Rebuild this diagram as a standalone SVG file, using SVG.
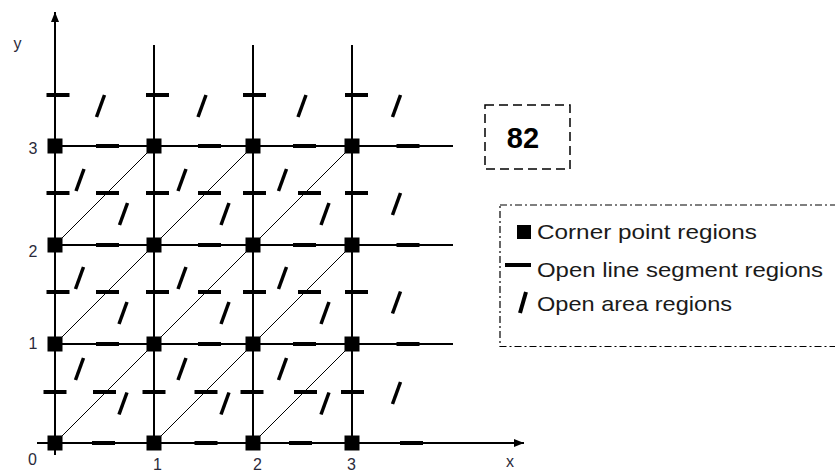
<svg xmlns="http://www.w3.org/2000/svg" xmlns:xlink="http://www.w3.org/1999/xlink" width="835" height="473" viewBox="0 0 835 473">
<style>
.grid{stroke:#000;stroke-width:2;fill:none}
.diag{stroke:#000;stroke-width:1;fill:none}
.lbl{font-family:"Liberation Sans",Arial,sans-serif;font-size:16px;fill:#2a2a3a;text-anchor:middle}
.leg{font-family:"Liberation Sans",Arial,sans-serif;font-size:21px;fill:#1a1a1a}
</style>
<defs>
<marker id="arr" viewBox="0 0 10 8" refX="10" refY="4" markerWidth="10" markerHeight="8" orient="auto" markerUnits="userSpaceOnUse"><path d="M0,0 L10,4 L0,8 z" fill="#000"/></marker>
<rect id="corner" x="-7.5" y="-7.5" width="15" height="15" fill="#000"/>
<line id="dash" x1="-11.5" y1="0" x2="11.5" y2="0" stroke="#000" stroke-width="4"/>
<line id="slash" x1="4" y1="-11" x2="-4" y2="11" stroke="#000" stroke-width="3.5"/>
</defs>
<rect width="835" height="473" fill="#fff"/>

<g id="connectors">
<g id="grid-lines">
<line class="grid" x1="154" y1="45" x2="154" y2="443"/>
<line class="grid" x1="253" y1="45" x2="253" y2="443"/>
<line class="grid" x1="352" y1="45" x2="352" y2="443"/>
<line class="grid" x1="55" y1="146" x2="453" y2="146"/>
<line class="grid" x1="55" y1="245" x2="453" y2="245"/>
<line class="grid" x1="55" y1="344" x2="453" y2="344"/>
</g>
<g id="axes">
<line class="grid" x1="55" y1="455" x2="55" y2="12" marker-end="url(#arr)"/>
<line class="grid" x1="37" y1="443" x2="524" y2="443" marker-end="url(#arr)"/>
</g>
<g id="diagonals">
<line class="diag" x1="55" y1="443" x2="154" y2="344"/>
<line class="diag" x1="154" y1="443" x2="253" y2="344"/>
<line class="diag" x1="253" y1="443" x2="352" y2="344"/>
<line class="diag" x1="55" y1="344" x2="154" y2="245"/>
<line class="diag" x1="154" y1="344" x2="253" y2="245"/>
<line class="diag" x1="253" y1="344" x2="352" y2="245"/>
<line class="diag" x1="55" y1="245" x2="154" y2="146"/>
<line class="diag" x1="154" y1="245" x2="253" y2="146"/>
<line class="diag" x1="253" y1="245" x2="352" y2="146"/>
</g>
</g>

<g id="corner-points">
<use xlink:href="#corner" x="55" y="443"/><use xlink:href="#corner" x="154" y="443"/><use xlink:href="#corner" x="253" y="443"/><use xlink:href="#corner" x="352" y="443"/>
<use xlink:href="#corner" x="55" y="344"/><use xlink:href="#corner" x="154" y="344"/><use xlink:href="#corner" x="253" y="344"/><use xlink:href="#corner" x="352" y="344"/>
<use xlink:href="#corner" x="55" y="245"/><use xlink:href="#corner" x="154" y="245"/><use xlink:href="#corner" x="253" y="245"/><use xlink:href="#corner" x="352" y="245"/>
<use xlink:href="#corner" x="55" y="146"/><use xlink:href="#corner" x="154" y="146"/><use xlink:href="#corner" x="253" y="146"/><use xlink:href="#corner" x="352" y="146"/>
</g>

<g id="line-segments">
<use xlink:href="#dash" x="58" y="95"/><use xlink:href="#dash" x="157.5" y="95"/><use xlink:href="#dash" x="254.5" y="95"/><use xlink:href="#dash" x="356.5" y="95"/>
<use xlink:href="#dash" x="107.5" y="146"/><use xlink:href="#dash" x="209.5" y="146"/><use xlink:href="#dash" x="304.5" y="146"/><use xlink:href="#dash" x="408" y="146"/>
<use xlink:href="#dash" x="58" y="193"/><use xlink:href="#dash" x="157.5" y="193"/><use xlink:href="#dash" x="254.5" y="193"/><use xlink:href="#dash" x="356.5" y="193"/>
<use xlink:href="#dash" x="107.5" y="193"/><use xlink:href="#dash" x="209.5" y="193"/><use xlink:href="#dash" x="309.5" y="193"/>
<use xlink:href="#dash" x="107.5" y="245"/><use xlink:href="#dash" x="209.5" y="245"/><use xlink:href="#dash" x="304.5" y="245"/><use xlink:href="#dash" x="408" y="245"/>
<use xlink:href="#dash" x="58" y="292"/><use xlink:href="#dash" x="157.5" y="292"/><use xlink:href="#dash" x="254.5" y="292"/><use xlink:href="#dash" x="356.5" y="292"/>
<use xlink:href="#dash" x="107.5" y="292"/><use xlink:href="#dash" x="209.5" y="292"/><use xlink:href="#dash" x="309.5" y="292"/>
<use xlink:href="#dash" x="107.5" y="344"/><use xlink:href="#dash" x="209.5" y="344"/><use xlink:href="#dash" x="304.5" y="344"/><use xlink:href="#dash" x="408" y="344"/>
<use xlink:href="#dash" x="55" y="392"/><use xlink:href="#dash" x="154" y="392"/><use xlink:href="#dash" x="252" y="392"/><use xlink:href="#dash" x="352.5" y="392"/>
<use xlink:href="#dash" x="104.5" y="392"/><use xlink:href="#dash" x="206" y="392"/><use xlink:href="#dash" x="305.5" y="392"/>
<use xlink:href="#dash" x="103.5" y="443"/><use xlink:href="#dash" x="206" y="443"/><use xlink:href="#dash" x="300.5" y="443"/><use xlink:href="#dash" x="411.5" y="443"/>
</g>

<g id="area-regions">
<use xlink:href="#slash" x="100.5" y="106"/><use xlink:href="#slash" x="202" y="106"/><use xlink:href="#slash" x="302" y="106"/><use xlink:href="#slash" x="396.5" y="106"/>
<use xlink:href="#slash" x="80" y="180"/><use xlink:href="#slash" x="182" y="180"/><use xlink:href="#slash" x="282.5" y="180"/>
<use xlink:href="#slash" x="123.5" y="214"/><use xlink:href="#slash" x="225" y="214"/><use xlink:href="#slash" x="325" y="214"/><use xlink:href="#slash" x="396.5" y="204"/>
<use xlink:href="#slash" x="79.5" y="278"/><use xlink:href="#slash" x="182" y="278"/><use xlink:href="#slash" x="282.5" y="278"/>
<use xlink:href="#slash" x="123" y="313"/><use xlink:href="#slash" x="225" y="313"/><use xlink:href="#slash" x="325" y="313"/><use xlink:href="#slash" x="396.5" y="302.5"/>
<use xlink:href="#slash" x="79.5" y="369"/><use xlink:href="#slash" x="182" y="369"/><use xlink:href="#slash" x="282.5" y="369"/>
<use xlink:href="#slash" x="123" y="403.5"/><use xlink:href="#slash" x="225" y="403.5"/><use xlink:href="#slash" x="325" y="403.5"/><use xlink:href="#slash" x="396.5" y="393"/>
</g>

<g id="axis-labels">
<text class="lbl" x="17.5" y="49" font-size="17">y</text>
<text class="lbl" x="510" y="467" font-size="17">x</text>
<text class="lbl" x="33" y="154">3</text>
<text class="lbl" x="33" y="256.5">2</text>
<text class="lbl" x="33" y="349">1</text>
<text class="lbl" x="32.5" y="465">0</text>
<text class="lbl" x="157.5" y="470">1</text>
<text class="lbl" x="257.5" y="470">2</text>
<text class="lbl" x="351.5" y="470">3</text>
</g>

<g id="count-box">
<rect x="485" y="105" width="85" height="64" fill="none" stroke="#000" stroke-width="1.5" stroke-dasharray="9 5"/>
<text x="523" y="148" font-family="'Liberation Sans',Arial,sans-serif" font-size="29" font-weight="bold" text-anchor="middle" fill="#000">82</text>
</g>

<g id="legend">
<rect x="500" y="205" width="345" height="141.5" fill="none" stroke="#000" stroke-width="1.2" stroke-dasharray="7 3 2 3"/>
<rect x="517" y="225" width="14" height="14" fill="#000"/>
<text class="leg" x="537" y="239" textLength="220" lengthAdjust="spacingAndGlyphs">Corner point regions</text>
<line x1="505" y1="265" x2="531" y2="265" stroke="#000" stroke-width="4"/>
<text class="leg" x="537" y="277" textLength="286" lengthAdjust="spacingAndGlyphs">Open line segment regions</text>
<line x1="526" y1="292" x2="520" y2="313" stroke="#000" stroke-width="4"/>
<text class="leg" x="537" y="311" textLength="195" lengthAdjust="spacingAndGlyphs">Open area regions</text>
</g>
</svg>
